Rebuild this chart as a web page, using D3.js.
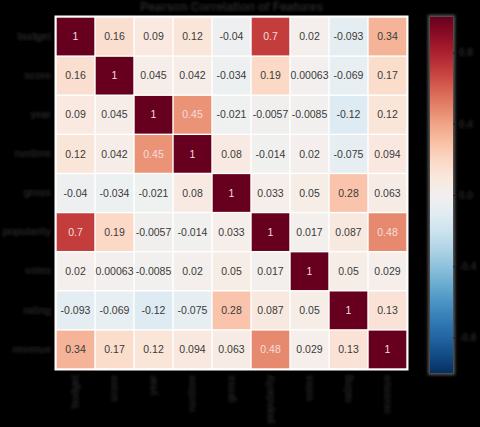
<!DOCTYPE html>
<html>
<head>
<meta charset="utf-8">
<script src="https://cdn.jsdelivr.net/npm/d3@7"></script>
<style>
  html, body { margin: 0; padding: 0; background: #000; }
  svg { display: block; }
</style>
</head>
<body>
<svg id="svg" width="480" height="427"></svg>
<script>
// feature names (rows and columns)
const features = ["budget", "score", "year", "runtime", "gross", "popularity", "votes", "rating", "revenue"];

// correlation rows
const row1 = [1, 0.16, 0.09, 0.12, -0.04, 0.7, 0.02, -0.093, 0.34];
const row2 = [0.16, 1, 0.045, 0.042, -0.034, 0.19, 0.00063, -0.069, 0.17];
const row3 = [0.09, 0.045, 1, 0.45, -0.021, -0.0057, -0.0085, -0.12, 0.12];
const row4 = [0.12, 0.042, 0.45, 1, 0.08, -0.014, 0.02, -0.075, 0.094];
const row5 = [-0.04, -0.034, -0.021, 0.08, 1, 0.033, 0.05, 0.28, 0.063];
const row6 = [0.7, 0.19, -0.0057, -0.014, 0.033, 1, 0.017, 0.087, 0.48];
const row7 = [0.02, 0.00063, -0.0085, 0.02, 0.05, 0.017, 1, 0.05, 0.029];
const row8 = [-0.093, -0.069, -0.12, -0.075, 0.28, 0.087, 0.05, 1, 0.13];
const row9 = [0.34, 0.17, 0.12, 0.094, 0.063, 0.48, 0.029, 0.13, 1];

// colorbar ticks
const cbarTicks = [0.8, 0.4, 0.0, -0.4, -0.8];
const cbarTickLabels = ["0.8", "0.4", "0.0", "-0.4", "-0.8"];

const title = "Pearson Correlation of Features";

const rows = [row1, row2, row3, row4, row5, row6, row7, row8, row9];

const svg = d3.select("#svg");

// soft blur for the labels
const defs = svg.append("defs");
defs.append("filter")
  .attr("id", "soft")
  .append("feGaussianBlur")
  .attr("stdDeviation", 1.6);

// heatmap area
const mapLeft = 56, mapTop = 17, mapRight = 407, mapBottom = 369;

const x = d3.scaleBand().domain(features).range([mapLeft, mapRight]);
const y = d3.scaleBand().domain(features).range([mapTop, mapBottom]);

// RdBu reversed, -1 .. 1
const color = (v) => d3.interpolateRdBu((1 - v) / 2);

// white frame behind the cells
svg.append("rect")
  .attr("x", mapLeft - 1.5)
  .attr("y", mapTop - 1.5)
  .attr("width", mapRight - mapLeft + 3)
  .attr("height", mapBottom - mapTop + 3)
  .attr("fill", "#fff");

const cells = [];
rows.forEach((r, i) => {
  r.forEach((v, j) => {
    cells.push({ row: features[i], col: features[j], value: v });
  });
});

const cellGroup = svg.append("g");

cellGroup.selectAll("rect")
  .data(cells)
  .join("rect")
  .attr("x", (d) => x(d.col) + 0.7)
  .attr("y", (d) => y(d.row) + 0.7)
  .attr("width", x.bandwidth() - 1.4)
  .attr("height", y.bandwidth() - 1.4)
  .attr("fill", (d) => color(d.value));

cellGroup.selectAll("text")
  .data(cells)
  .join("text")
  .attr("x", (d) => x(d.col) + x.bandwidth() / 2)
  .attr("y", (d) => y(d.row) + y.bandwidth() / 2)
  .attr("dy", "0.35em")
  .attr("text-anchor", "middle")
  .attr("font-family", "Liberation Sans, Arial, sans-serif")
  .attr("font-size", 10.5)
  .attr("fill", (d) => (Math.abs(d.value) >= 0.4 ? "#f6dede" : "#3a3a3a"))
  .text((d) => String(d.value));

// axis labels (dark on black, blurred like the source)
const labelStyle = (sel) => sel
  .attr("font-family", "Liberation Sans, Arial, sans-serif")
  .attr("font-size", 10)
  .attr("font-weight", "bold")
  .attr("fill", "#262626")
  .attr("filter", "url(#soft)");

const yAxis = d3.axisLeft(y).tickSize(0).tickPadding(3);
const yAxisG = svg.append("g")
  .attr("transform", `translate(${mapLeft - 2},0)`)
  .call(yAxis);
yAxisG.select(".domain").remove();
yAxisG.selectAll("text").call(labelStyle);

const xAxis = d3.axisBottom(x).tickSize(0).tickPadding(6);
const xAxisG = svg.append("g")
  .attr("transform", `translate(0,${mapBottom + 2})`)
  .call(xAxis);
xAxisG.select(".domain").remove();
xAxisG.selectAll("text")
  .call(labelStyle)
  .attr("text-anchor", "end")
  .attr("transform", "rotate(-90)")
  .attr("dx", "-0.4em")
  .attr("dy", "-0.3em");

// title
svg.append("text")
  .attr("x", (mapLeft + mapRight) / 2)
  .attr("y", 11)
  .attr("text-anchor", "middle")
  .call(labelStyle)
  .attr("font-size", 12)
  .text(title);

// colorbar
const cbLeft = 430, cbWidth = 23, cbTop = 17, cbBottom = 373;
const cbScale = d3.scaleLinear().domain([1, -1]).range([cbTop, cbBottom]);

const grad = defs.append("linearGradient")
  .attr("id", "cbar")
  .attr("x1", 0).attr("y1", 0)
  .attr("x2", 0).attr("y2", 1);
d3.range(0, 1.0001, 0.05).forEach((t) => {
  grad.append("stop")
    .attr("offset", t)
    .attr("stop-color", color(1 - 2 * t));
});

// grey halo around the bar
svg.append("rect")
  .attr("x", cbLeft - 2)
  .attr("y", cbTop - 2)
  .attr("width", cbWidth + 4)
  .attr("height", cbBottom - cbTop + 4)
  .attr("fill", "#5a5a5a")
  .attr("filter", "url(#soft)");

svg.append("rect")
  .attr("x", cbLeft)
  .attr("y", cbTop)
  .attr("width", cbWidth)
  .attr("height", cbBottom - cbTop)
  .attr("fill", "url(#cbar)");

const cbAxis = d3.axisRight(cbScale)
  .tickValues(cbarTicks)
  .tickFormat((d, i) => cbarTickLabels[i])
  .tickSize(2)
  .tickPadding(4);
const cbAxisG = svg.append("g")
  .attr("transform", `translate(${cbLeft + cbWidth},0)`)
  .call(cbAxis);
cbAxisG.select(".domain").remove();
cbAxisG.selectAll("line").attr("stroke", "#222");
cbAxisG.selectAll("text").call(labelStyle);
</script>
</body>
</html>
